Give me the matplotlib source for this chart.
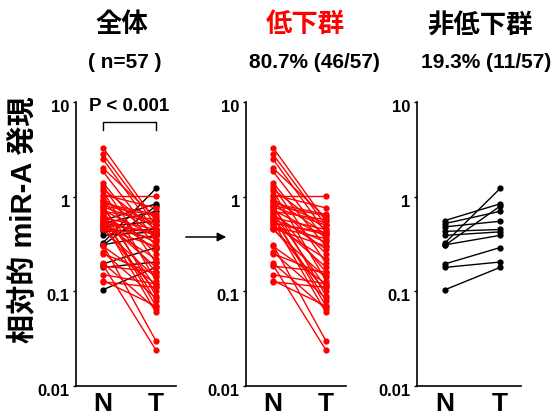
import matplotlib
matplotlib.use("Agg")
import matplotlib.pyplot as plt
import matplotlib.transforms as mtransforms

plt.rcParams['font.family'] = ['Liberation Sans', 'Noto Sans CJK JP', 'DejaVu Sans']
plt.rcParams['font.weight'] = 'bold'

# 低下群 (46 pairs, red)
low_n = [3.3, 2.8, 2.5, 2.0, 1.85, 1.4, 1.3, 1.2, 1.15, 1.05,
         1.02, 0.95, 0.9, 0.85, 0.82, 0.78, 0.75, 0.72, 0.7, 0.68,
         0.65, 0.63, 0.6, 0.58, 0.56, 0.55, 0.53, 0.5, 0.48, 0.47,
         0.46, 0.45, 0.9, 0.62, 0.52, 0.8, 0.31, 0.3, 0.26, 0.25,
         0.2, 0.19, 0.185, 0.15, 0.13, 0.126]
low_t = [0.55, 0.5, 0.42, 0.6, 0.35, 0.3, 0.2, 0.45, 0.13, 0.76,
         1.02, 0.4, 0.25, 0.65, 0.09, 0.5, 0.16, 0.38, 0.57, 0.11,
         0.28, 0.07, 0.45, 0.33, 0.18, 0.06, 0.4, 0.22, 0.36, 0.1,
         0.3, 0.14, 0.52, 0.08, 0.42, 0.63, 0.03, 0.12, 0.085, 0.15,
         0.065, 0.024, 0.16, 0.12, 0.07, 0.11]

# 非低下群 (11 pairs, black)
high_n = [0.56, 0.52, 0.48, 0.43, 0.39, 0.325, 0.307, 0.31, 0.195, 0.179, 0.104]
high_t = [0.84, 0.70, 0.55, 0.45, 0.425, 1.22, 0.795, 0.39, 0.29, 0.204, 0.179]

groups = ['N', 'T']
yticks = [0.01, 0.1, 1, 10]
yticklabels = ['0.01', '0.1', '1', '10']

titles = ['全体', '低下群', '非低下群']
title_colors = ['black', 'red', 'black']
subtitles = ['( n=57 )', '80.7% (46/57)', '19.3% (11/57)']

W, H = 557, 420
fig = plt.figure(figsize=(W / 100, H / 100), dpi=100)


def px_axes(left, top, right, bottom):
    return fig.add_axes([left / W, 1 - bottom / H, (right - left) / W, (bottom - top) / H])


def draw_pairs(ax, n_vals, t_vals, color):
    for a, b in zip(n_vals, t_vals):
        ax.plot([0, 1], [a, b], color=color, lw=1.0, marker='o', ms=4.5,
                markeredgewidth=0, solid_capstyle='round')


def style(ax):
    ax.set_yscale('log')
    ax.set_ylim(0.01, 10)
    ax.set_xlim(-0.51, 1.38)
    ax.set_yticks(yticks)
    ax.set_yticklabels(yticklabels, fontsize=12, fontweight='bold')
    ax.minorticks_off()
    ax.set_xticks([0, 1])
    ax.set_xticklabels(groups, fontsize=19, fontweight='bold')
    ax.tick_params(axis='x', length=0, pad=4)
    ax.tick_params(axis='y', length=2.5, width=1.0, pad=2)
    for s in ['top', 'right']:
        ax.spines[s].set_visible(False)
    for s in ['left', 'bottom']:
        ax.spines[s].set_linewidth(1.2)
    off = mtransforms.ScaledTranslation(0, -4 / 100, fig.dpi_scale_trans)
    for lab in ax.get_yticklabels():
        lab.set_transform(lab.get_transform() + off)


ax1 = px_axes(76, 102, 176, 386)
ax2 = px_axes(246, 102, 346, 386)
ax3 = px_axes(417, 102, 521, 386)

draw_pairs(ax1, high_n, high_t, 'black')
draw_pairs(ax1, low_n, low_t, 'red')
draw_pairs(ax2, low_n, low_t, 'red')
draw_pairs(ax3, high_n, high_t, 'black')
for ax in (ax1, ax2, ax3):
    style(ax)

# significance bracket
ax1.plot([0, 0, 1, 1], [5.0, 6.2, 6.2, 5.0], color='black', lw=1.0, clip_on=False)
ax1.text(0.5, 7.3, 'P < 0.001', ha='center', va='bottom', fontsize=13.5, fontweight='bold')

# arrow between panels
fig.add_artist(matplotlib.patches.FancyArrowPatch(
    (183 / W, 1 - 237 / H), (229 / W, 1 - 237 / H), transform=fig.transFigure,
    arrowstyle='-|>', mutation_scale=13, color='black', lw=1.1))

centers = [122, 305, 480]
sub_centers = [125, 314, 486]
for cx, sx, t, c, st in zip(centers, sub_centers, titles, title_colors, subtitles):
    fig.text(cx / W, 1 - 25 / H, t, ha='center', va='center', fontsize=19,
             fontweight='bold', color=c)
    fig.text(sx / W, 1 - 63 / H, st, ha='center', va='center', fontsize=15,
             fontweight='bold')

fig.text(24 / W, 1 - 220 / H, '相対的 miR-A 発現', rotation=90, ha='center',
         va='center', fontsize=21, fontweight='bold')

fig.savefig('out.png', dpi=100)
